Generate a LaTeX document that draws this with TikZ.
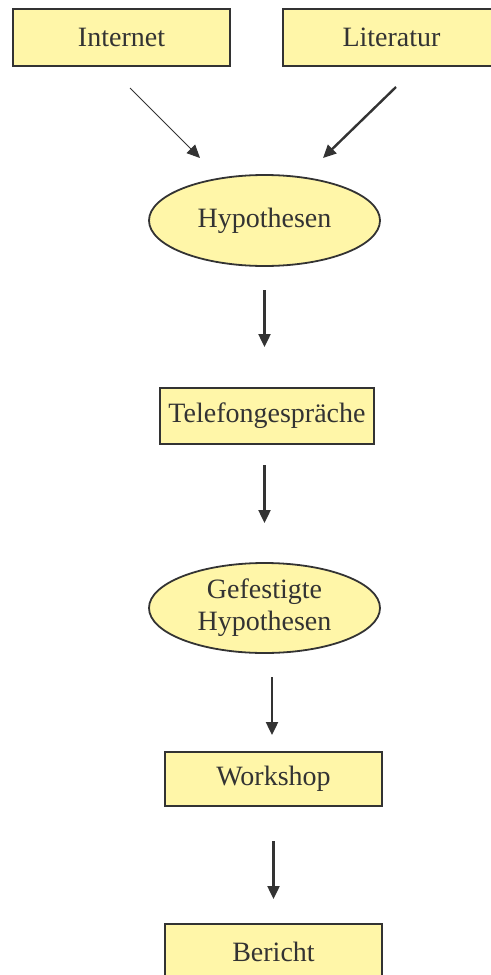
\documentclass[tikz,border=0pt]{standalone}
\usepackage{fontspec}
\setmainfont{Liberation Serif}
\usepackage{tikz}
\usetikzlibrary{shapes.geometric, arrows.meta, positioning}

\definecolor{boxfill}{HTML}{FFF6A8}
\definecolor{ink}{HTML}{333333}

\begin{document}
\begin{tikzpicture}[
    font=\fontsize{14}{16}\selectfont,
    box/.style={
        rectangle, draw=ink, line width=1pt, fill=boxfill, text=ink,
        minimum width=108.5pt, minimum height=28.5pt, inner sep=0pt,
        outer sep=0pt
    },
    bubble/.style={
        ellipse, draw=ink, line width=0.9pt, fill=boxfill, text=ink,
        minimum width=115.5pt, minimum height=45.5pt, inner sep=0pt,
        outer sep=0pt, align=center
    },
    arrow/.style={draw=ink, line width=1.2pt, -{Triangle[length=6.5pt,width=6pt]}}
]
\useasboundingbox (0,0) rectangle (245.5pt,-487.5pt);

%% Sources
\node (internet)  [box] at (60.75pt,-18.75pt) {Internet};
\node (literatur) [box, right=26.5pt of internet] {Literatur};

%% Flow
\node (hypo)     [bubble, below=54.5pt of internet, xshift=71.5pt] {Hypothesen};
\node (telefon)  [box, below=61pt of hypo, xshift=1.25pt,
                  minimum width=107pt, minimum height=28pt] {Telefongespräche};
\node (gefestigt)[bubble, below=59.5pt of telefon, xshift=-1.25pt,
                  minimum height=45pt] {Gefestigte\\Hypothesen};
\node (workshop) [box, below=49.5pt of gefestigt, xshift=4.5pt,
                  minimum height=27pt] {Workshop};
\node (bericht)  [box, below=59pt of workshop, minimum height=28pt] {Bericht};

%% Arrow ends
\coordinate (inet-out) at ([xshift=4.25pt, yshift=-11pt]internet.south);
\coordinate (inet-in)  at ([xshift=-32.25pt, yshift=8.5pt]hypo.north);
\coordinate (lit-out)  at ([xshift=2.25pt, yshift=-10.5pt]literatur.south);
\coordinate (lit-in)   at ([xshift=29.25pt, yshift=8.5pt]hypo.north);

%% Arrows
\draw [arrow, line width=0.5pt] (inet-out) -- (inet-in);
\draw [arrow] (lit-out) -- (lit-in);
\draw [arrow, shorten <=12pt, shorten >=20.5pt] (hypo.south) -- (hypo.south |- telefon.north);
\draw [arrow, shorten <=10.5pt, shorten >=20pt] (hypo.south |- telefon.south) -- (hypo.south |- gefestigt.north);
\draw [arrow, shorten <=12pt, shorten >=8.5pt] ([xshift=3.75pt]gefestigt.south) -- ([xshift=3.75pt]gefestigt.south |- workshop.north);
\draw [arrow, shorten <=17.5pt, shorten >=12.5pt] (workshop.south) -- (bericht.north);

\end{tikzpicture}
\end{document}
